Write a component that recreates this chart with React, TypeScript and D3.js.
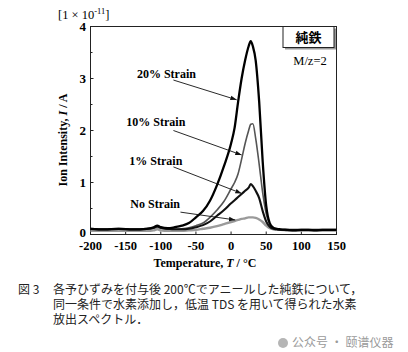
import React from "react";
import * as d3 from "d3";

// temperature grid (°C)
const temps = [
  -200, -180, -160, -140, -120, -110, -105, -100, -90, -80, -70, -60, -50, -40, -30, -20, -10, 0, 5, 10,
  15, 20, 25, 28, 31, 35, 40, 45, 50, 55, 60, 65, 70, 80, 90, 100, 110, 120, 130, 140, 150,
];

// ion intensity [1e-11 A]
const strain20 = [
  0.11, 0.1, 0.11, 0.1, 0.11, 0.14, 0.17, 0.14, 0.12, 0.14, 0.17, 0.22, 0.33, 0.45, 0.65, 0.95, 1.32, 1.75, 2.05, 2.55,
  3.0, 3.35, 3.62, 3.72, 3.62, 3.35, 2.55, 1.4, 0.55, 0.22, 0.13, 0.11, 0.1, 0.09, 0.08, 0.09, 0.09, 0.08, 0.09, 0.09, 0.09,
];
const strain10 = [
  0.1, 0.09, 0.1, 0.09, 0.1, 0.12, 0.14, 0.12, 0.1, 0.1, 0.11, 0.13, 0.17, 0.22, 0.33, 0.47, 0.64, 0.88, 1.0, 1.17,
  1.45, 1.75, 2.0, 2.12, 2.13, 1.85, 1.35, 0.8, 0.4, 0.2, 0.13, 0.1, 0.09, 0.08, 0.08, 0.08, 0.08, 0.08, 0.08, 0.08, 0.08,
];
const strain1 = [
  0.11, 0.1, 0.11, 0.1, 0.11, 0.13, 0.16, 0.13, 0.11, 0.1, 0.1, 0.11, 0.14, 0.18, 0.25, 0.36, 0.47, 0.6, 0.66, 0.72,
  0.78, 0.84, 0.9, 0.97, 0.93, 0.84, 0.7, 0.45, 0.25, 0.15, 0.11, 0.1, 0.09, 0.09, 0.09, 0.09, 0.09, 0.09, 0.09, 0.09, 0.09,
];
const noStrain = [
  0.07, 0.07, 0.07, 0.07, 0.07, 0.08, 0.1, 0.08, 0.07, 0.07, 0.07, 0.08, 0.09, 0.11, 0.13, 0.16, 0.2, 0.24, 0.26, 0.28,
  0.3, 0.31, 0.33, 0.33, 0.33, 0.32, 0.29, 0.24, 0.17, 0.12, 0.1, 0.09, 0.09, 0.08, 0.08, 0.08, 0.08, 0.08, 0.08, 0.08, 0.08,
];

const xTicks = [-200, -150, -100, -50, 0, 50, 100, 150];
const yTicks = [0, 1, 2, 3, 4];
const yMinor = [0.5, 1.5, 2.5, 3.5];

// label text, label centre [T, I], arrow from [T, I], arrow to [T, I]
const notes = [
  { text: "20% Strain", at: [-92, 3.1], from: [-82, 2.97], to: [8, 2.59] },
  { text: "10% Strain", at: [-107, 2.17], from: [-82, 2.0], to: [15, 1.53] },
  { text: "1% Strain", at: [-107, 1.42], from: [-82, 1.3], to: [15, 0.79] },
  { text: "No Strain", at: [-108, 0.59], from: [-72, 0.43], to: [6, 0.28] },
];

const caption = [
  "各予ひずみを付与後 200℃でアニールした純鉄について，",
  "同一条件で水素添加し，低温 TDS を用いて得られた水素",
  "放出スペクトル．",
];

const W = 408;
const H = 352;
const serif = "'Liberation Serif', 'Times New Roman', serif";
const cjk = "'Noto Sans CJK JP', sans-serif";

export default function App() {
  const x = d3.scaleLinear().domain([-200, 150]).range([90.5, 336.5]);
  const y = d3.scaleLinear().domain([0, 4]).range([234.5, 26.5]);

  const line = (vals: number[]) =>
    d3
      .line<number>()
      .x((_, i) => x(temps[i]))
      .y((d) => y(d))
      .curve(d3.curveMonotoneX)(vals) || "";

  const series = [
    { vals: noStrain, color: "#9a9a9a", w: 2.4 },
    { vals: strain10, color: "#555", w: 1.6 },
    { vals: strain1, color: "#111", w: 2.1 },
    { vals: strain20, color: "#000", w: 2.3 },
  ];

  return (
    <svg
      width={W}
      height={H}
      style={{ position: "absolute", left: 0, top: 0, background: "#fff" }}
      fontFamily={serif}
    >
      <defs>
        <marker id="arr" viewBox="0 0 10 10" refX="10" refY="5" markerWidth="7" markerHeight="7" orient="auto">
          <path d="M0,1.5 L10,5 L0,8.5 z" fill="#111" />
        </marker>
      </defs>

      {/* unit */}
      <text x={58} y={19} fontSize={12.5}>
        [1 × 10
        <tspan dy={-5} fontSize={8.5}>-11</tspan>
        <tspan dy={5}>]</tspan>
      </text>

      {/* frame */}
      <rect x={x(-200)} y={y(4)} width={x(150) - x(-200)} height={y(0) - y(4)} fill="none" stroke="#222" strokeWidth={1} />

      {/* ticks */}
      {yTicks.map((t) => (
        <g key={"y" + t}>
          <line x1={x(-200)} x2={x(-200) + 3} y1={y(t)} y2={y(t)} stroke="#222" />
          <text x={86} y={y(t) - (t === 0 ? 2 : 0)} dy="0.35em" textAnchor="end" fontSize={13} fontWeight="bold">
            {t}
          </text>
        </g>
      ))}
      {yMinor.map((t) => (
        <line key={"ym" + t} x1={x(-200)} x2={x(-200) + 2} y1={y(t)} y2={y(t)} stroke="#222" />
      ))}
      {xTicks.map((t) => (
        <g key={"x" + t}>
          <line x1={x(t)} x2={x(t)} y1={y(0)} y2={y(0) - 3} stroke="#222" />
          <text x={x(t)} y={250} textAnchor="middle" fontSize={12.5} fontWeight="bold">
            {t}
          </text>
        </g>
      ))}

      {/* curves */}
      {series.map((s, i) => (
        <path key={i} d={line(s.vals)} fill="none" stroke={s.color} strokeWidth={s.w} strokeLinejoin="round" />
      ))}

      {/* annotations */}
      {notes.map((n) => (
        <g key={n.text}>
          <text x={x(n.at[0])} y={y(n.at[1])} dy="0.35em" textAnchor="middle" fontSize={12} fontWeight="bold">
            {n.text}
          </text>
          <line
            x1={x(n.from[0])}
            y1={y(n.from[1])}
            x2={x(n.to[0])}
            y2={y(n.to[1])}
            stroke="#111"
            strokeWidth={0.9}
            markerEnd="url(#arr)"
          />
        </g>
      ))}

      {/* legend box */}
      <rect x={285} y={y(4) + 2} width={51} height={21} fill="#999" />
      <rect x={283} y={y(4)} width={51} height={21} fill="#fff" stroke="#222" />
      <text x={308.5} y={y(4) + 11} dy="0.35em" textAnchor="middle" fontSize={13} fontWeight="bold" fontFamily={cjk}>
        純鉄
      </text>
      <text x={310} y={65} textAnchor="middle" fontSize={12.5}>
        M/z=2
      </text>

      {/* axis titles */}
      <text x={205} y={267} textAnchor="middle" fontSize={12} fontWeight="bold">
        Temperature, <tspan fontStyle="italic">T</tspan> / °C
      </text>
      <text transform="translate(67,140) rotate(-90)" textAnchor="middle" fontSize={12} fontWeight="bold">
        Ion Intensity, <tspan fontStyle="italic">I</tspan> / A
      </text>

      {/* caption */}
      <g fontFamily={cjk} fontSize={12} fill="#222">
        <text x={18} y={294}>図 3</text>
        {caption.map((c, i) => (
          <text key={i} x={53} y={294 + i * 15}>
            {c}
          </text>
        ))}
      </g>
      <g fontFamily="'Noto Sans CJK SC', sans-serif" fontSize={12} fill="#9a9a9a">
        <circle cx={283} cy={343} r={5} fill="#b5b5b5" />
        <text x={292} y={347}>公众号 · 颐谱仪器</text>
      </g>
    </svg>
  );
}
